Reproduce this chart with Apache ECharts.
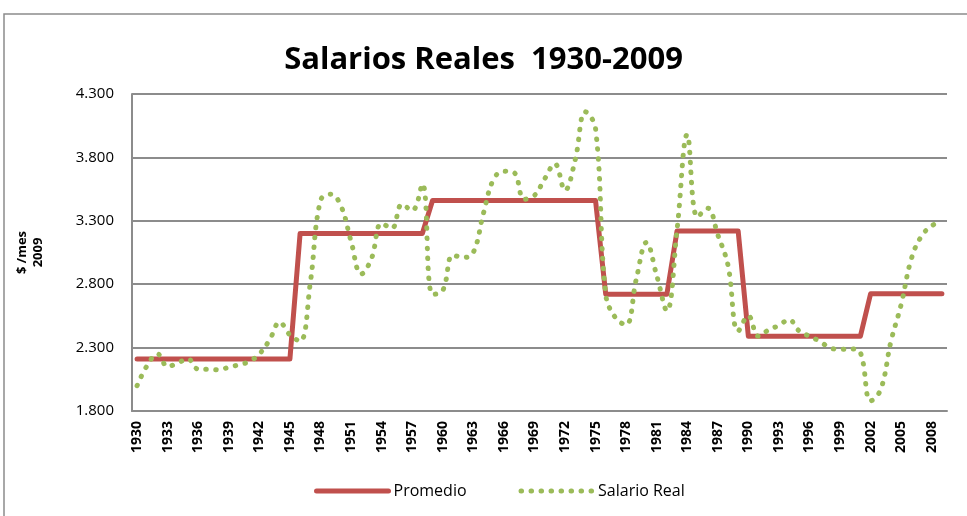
<!DOCTYPE html>
<html>
<head>
<meta charset="utf-8">
<script src="https://cdn.jsdelivr.net/npm/echarts@6/dist/echarts.min.js"></script>
<style>
    html, body { margin: 0; padding: 0; background: #fff; }
    #chart1 { width: 967px; height: 516px; }
</style>
</head>
<body>
<div id="chart1"></div>
<script>
// años 1930-2009
var years = [];
for (var y = 1930; y <= 2009; y++) { years.push(String(y)); }

// promedio por periodo (tramos)
var promedio = [
    2210, 2210, 2210, 2210, 2210, 2210, 2210, 2210, 2210, 2210, // 1930-1939
    2210, 2210, 2210, 2210, 2210, 2210, 3200, 3200, 3200, 3200, // 1940-1949
    3200, 3200, 3200, 3200, 3200, 3200, 3200, 3200, 3200, 3460, // 1950-1959
    3460, 3460, 3460, 3460, 3460, 3460, 3460, 3460, 3460, 3460, // 1960-1969
    3460, 3460, 3460, 3460, 3460, 3460, 2720, 2720, 2720, 2720, // 1970-1979
    2720, 2720, 2720, 3220, 3220, 3220, 3220, 3220, 3220, 3220, // 1980-1989
    2390, 2390, 2390, 2390, 2390, 2390, 2390, 2390, 2390, 2390, // 1990-1999
    2390, 2390, 2725, 2725, 2725, 2725, 2725, 2725, 2725, 2725  // 2000-2009
];

var salarioReal = [
    2000, 2160, 2250, 2150, 2180, 2210, 2130, 2130, 2125, 2145, // 1930-1939
    2165, 2190, 2250, 2360, 2500, 2400, 2350, 2810, 3460, 3510, // 1940-1949
    3420, 3140, 2880, 3000, 3280, 3240, 3430, 3380, 3590, 2720, // 1950-1959
    2750, 3030, 3010, 3050, 3360, 3630, 3690, 3680, 3470, 3500, // 1960-1969
    3630, 3750, 3540, 3780, 4160, 4030, 2720, 2530, 2480, 2840, // 1970-1979
    3130, 2870, 2590, 3230, 3980, 3330, 3400, 3190, 2950, 2430, // 1980-1989
    2550, 2390, 2440, 2475, 2520, 2430, 2390, 2350, 2300, 2285, // 1990-1999
    2290, 2260, 1880, 1970, 2350, 2640, 3000, 3180, 3260, 3300  // 2000-2009
];

chart1();

function chart1() {
    var myChart = echarts.init(document.getElementById('chart1'));
    var font = "'Open Sans', 'DejaVu Sans', sans-serif";
    var option = {
        animation: false,
        backgroundColor: '#fff',
        textStyle: { fontFamily: font },
        graphic: [{
            type: 'rect',
            shape: { x: 4, y: 14, width: 975, height: 520 },
            style: { fill: 'none', stroke: '#8c8c8c', lineWidth: 1.5 },
            silent: true
        }],
        title: {
            text: 'Salarios Reales  1930-2009',
            left: 'center',
            top: 40,
            textStyle: { fontSize: 31, fontWeight: 'bold', color: '#000', fontFamily: font }
        },
        legend: {
            bottom: 12,
            left: 309,
            itemWidth: 72,
            itemHeight: 14,
            itemGap: 52,
            itemStyle: { opacity: 0 },
            lineStyle: { width: 5 },
            textStyle: { fontSize: 16, color: '#000', fontFamily: font },
            data: ['Promedio', 'Salario Real']
        },
        grid: {
            left: 132,
            right: 20,
            top: 94,
            bottom: 105
        },
        xAxis: {
            type: 'category',
            data: years,
            boundaryGap: true,
            axisLine: { lineStyle: { color: '#8c8c8c', width: 2 } },
            axisTick: { show: false },
            axisLabel: {
                interval: 2,
                rotate: 90,
                margin: 10,
                fontSize: 14,
                fontWeight: 'bold',
                color: '#000'
            }
        },
        yAxis: {
            type: 'value',
            min: 1800,
            max: 4300,
            interval: 500,
            name: '$ /mes\n2009',
            nameLocation: 'middle',
            nameRotate: 90,
            nameGap: 86,
            nameTextStyle: { fontSize: 13, fontWeight: 'bold', color: '#000', lineHeight: 16 },
            axisLine: { show: true, lineStyle: { color: '#8c8c8c', width: 2 } },
            axisTick: { show: false },
            splitLine: { lineStyle: { color: '#8c8c8c', width: 2 } },
            axisLabel: {
                margin: 18,
                fontSize: 15,
                color: '#000',
                formatter: function (v) {
                    var s = String(v);
                    return s.slice(0, s.length - 3) + '.' + s.slice(-3);
                }
            }
        },
        series: [
            {
                name: 'Promedio',
                type: 'line',
                data: promedio,
                showSymbol: false,
                symbol: 'none',
                color: '#c0504d',
                lineStyle: { color: '#c0504d', width: 5, cap: 'round', join: 'round' },
                z: 3
            },
            {
                name: 'Salario Real',
                type: 'line',
                data: salarioReal,
                smooth: 0.4,
                showSymbol: false,
                symbol: 'none',
                color: '#9bbb59',
                lineStyle: { color: '#9bbb59', width: 5, type: [0.5, 9.5], cap: 'round' },
                z: 4
            }
        ]
    };
    myChart.setOption(option);
}
</script>
</body>
</html>
